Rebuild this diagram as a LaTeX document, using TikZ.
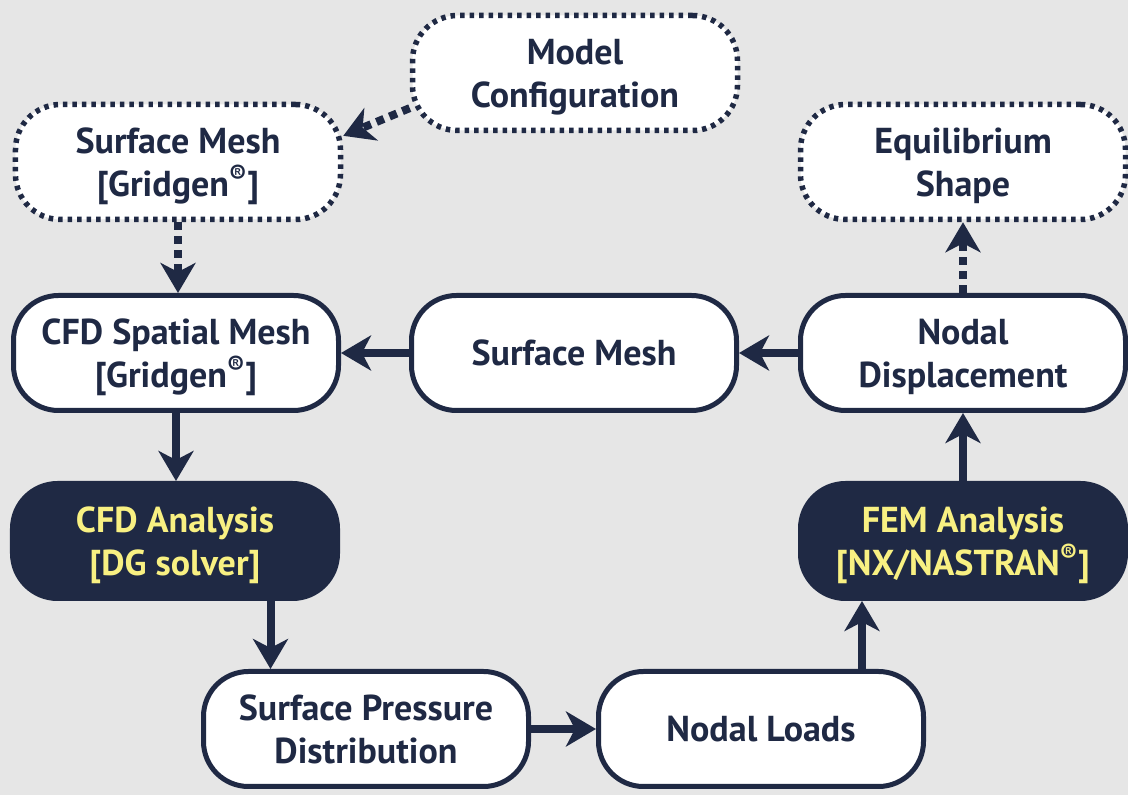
\documentclass[tikz,border=0pt]{standalone}
\usepackage{fontspec}
\setsansfont{PT Sans}
\usetikzlibrary{positioning,arrows.meta,calc}
\definecolor{navycol}{RGB}{31,41,68}
\definecolor{goldcol}{RGB}{248,240,130}
\definecolor{bgcol}{RGB}{230,230,230}

\begin{document}
\begin{tikzpicture}[
    font=\sffamily\bfseries,
    box/.style={draw=navycol, line width=0.1cm, fill=white, rounded corners=0.9cm,
                minimum width=6.5cm, minimum height=2.3cm, align=center, inner sep=2pt,
                text depth=0pt, text=navycol,
                font=\fontsize{20.5}{24.5}\selectfont\sffamily\bfseries},
    darkbox/.style={box, fill=navycol, text=goldcol},
    dotbox/.style={box, line width=0.11cm, dash pattern=on 0.09cm off 0.1cm},
    flow/.style={-{Stealth[length=0.6cm, width=0.7cm, inset=0.18cm]}, line width=0.16cm, draw=navycol},
    dotflow/.style={flow, dash pattern=on 0.16cm off 0.12cm},
]

% ---- Background ----
\fill[bgcol] (0,0) rectangle (22.56,15.9);
\useasboundingbox (0,0) rectangle (22.56,15.9);

% ---- Boxes ----
\node[dotbox] (model) at (11.5,14.44) {Model\\Configuration};
\node[dotbox] (smesh) at (3.56,12.66) {Surface Mesh\\{[Gridgen\textsuperscript{®}]}};
\node[dotbox] (equil) at (19.26,12.66) {Equilibrium\\Shape};
\node[box] (cfdmesh) at (3.52,8.84) {CFD Spatial Mesh\\{[Gridgen\textsuperscript{®}]}};
\node[box] (surf) at (11.48,8.84) {Surface Mesh};
\node[box] (disp) at (19.26,8.84) {Nodal\\Displacement};
\node[darkbox] (cfdA) at (3.5,5.08) {CFD Analysis\\{[DG solver]}};
\node[darkbox] (fem) at (19.26,5.08) {FEM Analysis\\{[NX/NASTRAN\textsuperscript{®}]}};
\node[box] (press) at (7.32,1.32) {Surface Pressure\\Distribution};
\node[box] (loads) at (15.22,1.32) {Nodal Loads};

% ---- Arrows ----
\coordinate (midL) at ($(cfdA)!0.5!(press)$);
\coordinate (midR) at ($(loads)!0.5!(fem)$);
\draw[dotflow] (model.192) -- (smesh.9);
\draw[dotflow] (smesh.south) -- (smesh.south |- cfdmesh.north);
\draw[flow] (cfdmesh.south) -- (cfdmesh.south |- cfdA.north);
\draw[flow] (cfdA.south -| midL) -- (press.north -| midL);
\draw[flow] (press) -- (loads);
\draw[flow] (loads.north -| midR) -- (fem.south -| midR);
\draw[flow] (fem) -- (disp);
\draw[flow] (disp) -- (surf);
\draw[flow] (surf) -- (cfdmesh);
\draw[dotflow] (disp) -- (equil);

\end{tikzpicture}
\end{document}
